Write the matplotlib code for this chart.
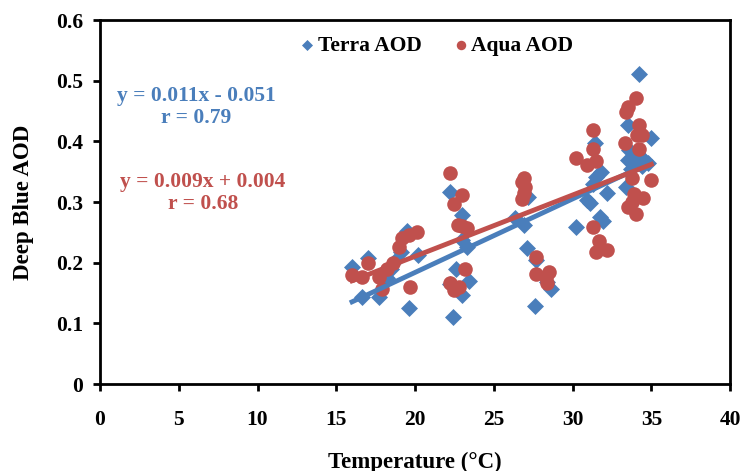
import numpy as np
import matplotlib.pyplot as plt

# Terra AOD points (temperature in deg C, AOD)
terra_t = [16.0, 16.6, 17.0, 17.7, 18.2, 18.5, 18.8, 19.1, 19.5, 19.6, 20.2,
           22.2, 22.96, 22.96, 23.3, 22.6, 22.2, 23.4, 22.96, 22.4,
           26.35, 26.9, 27.2, 27.1, 27.7, 28.6, 28.4, 27.6,
           30.2, 30.9, 31.1, 31.3, 31.5, 31.4, 31.75, 31.9, 32.2, 31.8,
           34.2, 33.5, 35.0, 33.4, 33.6, 33.8, 34.0, 34.2, 34.4, 34.6, 33.7, 34.1, 33.5, 34.8]
terra_aod = [0.193, 0.143, 0.208, 0.144, 0.175, 0.19, 0.205, 0.218, 0.252, 0.126, 0.212,
             0.317, 0.279, 0.237, 0.226, 0.19, 0.165, 0.169, 0.147, 0.111,
             0.273, 0.262, 0.308, 0.225, 0.205, 0.157, 0.168, 0.128,
             0.259, 0.303, 0.298, 0.33, 0.342, 0.397, 0.276, 0.268, 0.315, 0.35,
             0.511, 0.427, 0.405, 0.325, 0.385, 0.375, 0.37, 0.365, 0.36, 0.368, 0.355, 0.38, 0.37, 0.365]

# Aqua AOD points
aqua_t = [16.0, 16.6, 17.0, 17.7, 17.9, 18.2, 18.6, 19.0, 19.15, 19.6, 20.1, 19.7,
          22.2, 22.95, 22.5, 22.7, 23.3, 23.0, 23.2, 22.2, 22.8, 22.5,
          26.9, 26.8, 27.0, 26.9, 26.8, 27.7, 27.7, 28.3, 28.5, 28.35,
          31.3, 31.3, 30.2, 30.9, 31.5, 31.3, 31.7, 31.5, 32.2,
          34.0, 33.5, 33.4, 34.2, 34.1, 34.4, 33.3, 34.2, 35.0, 33.75, 33.9, 34.5, 33.5, 34.0, 33.8]
aqua_aod = [0.18, 0.177, 0.2, 0.176, 0.157, 0.19, 0.2, 0.226, 0.24, 0.245, 0.251, 0.16,
            0.347, 0.311, 0.297, 0.262, 0.257, 0.26, 0.19, 0.166, 0.16, 0.155,
            0.34, 0.333, 0.325, 0.315, 0.305, 0.21, 0.182, 0.177, 0.185, 0.166,
            0.419, 0.388, 0.372, 0.361, 0.367, 0.259, 0.235, 0.218, 0.221,
            0.471, 0.457, 0.449, 0.427, 0.41, 0.41, 0.397, 0.388, 0.336, 0.339, 0.314, 0.306, 0.292, 0.281, 0.3]

blue = '#4a7ebb'
red = '#c0504d'

plt.rcParams['font.family'] = ['Liberation Serif', 'DejaVu Serif']
plt.rcParams['font.weight'] = 'bold'

fig = plt.figure(figsize=(7.42, 4.71), dpi=100)
ax = fig.add_axes([0.1348, 0.1847, 0.8492, 0.7728])

ax.scatter(terra_t, terra_aod, marker='D', s=75, color=blue, linewidths=0, zorder=3, label='Terra AOD')
ax.scatter(aqua_t, aqua_aod, marker='o', s=110, color=red, linewidths=0, zorder=4, label='Aqua AOD')

# linear trend lines
for t, a, c in [(terra_t, terra_aod, blue), (aqua_t, aqua_aod, red)]:
    k, b = np.polyfit(t, a, 1)
    xx = np.array([min(t), max(t)])
    ax.plot(xx, k * xx + b, color=c, lw=3.5, zorder=5)

eq_kw = dict(transform=ax.transAxes, fontsize=15.5, fontweight='bold', ha='center', va='center')
ax.text(0.153, 0.79, 'y = 0.011x - 0.051', color=blue, **eq_kw)
ax.text(0.153, 0.73, 'r = 0.79', color=blue, **eq_kw)
ax.text(0.163, 0.555, 'y = 0.009x + 0.004', color=red, **eq_kw)
ax.text(0.163, 0.495, 'r = 0.68', color=red, **eq_kw)

ax.set_xlim(0, 40)
ax.set_ylim(0, 0.6)
ax.set_xticks(np.arange(0, 41, 5))
ax.set_yticks(np.arange(0, 0.61, 0.1))
ax.set_yticklabels(['0', '0.1', '0.2', '0.3', '0.4', '0.5', '0.6'])
ax.tick_params(direction='out', length=5, width=2, labelsize=15.5)
ax.tick_params(axis='x', pad=14)
ax.tick_params(axis='y', pad=7)
for lab in ax.get_xticklabels() + ax.get_yticklabels():
    lab.set_fontweight('bold')
for sp in ax.spines.values():
    sp.set_linewidth(2)

ax.set_xlabel('Temperature (°C)', fontsize=16.5, fontweight='bold')
ax.set_ylabel('Deep Blue AOD', fontsize=16.5, fontweight='bold')
ax.xaxis.set_label_coords(0.5, -0.185)
ax.yaxis.set_label_coords(-0.105, 0.5)

ax.legend(loc='center', bbox_to_anchor=(0.535, 0.93), ncol=2, frameon=False,
          handletextpad=0.2, handlelength=0.6, columnspacing=1.5, markerscale=0.65,
          prop={'weight': 'bold', 'size': 15.5}, scatterpoints=1)

fig.savefig('out.png', dpi=100)
